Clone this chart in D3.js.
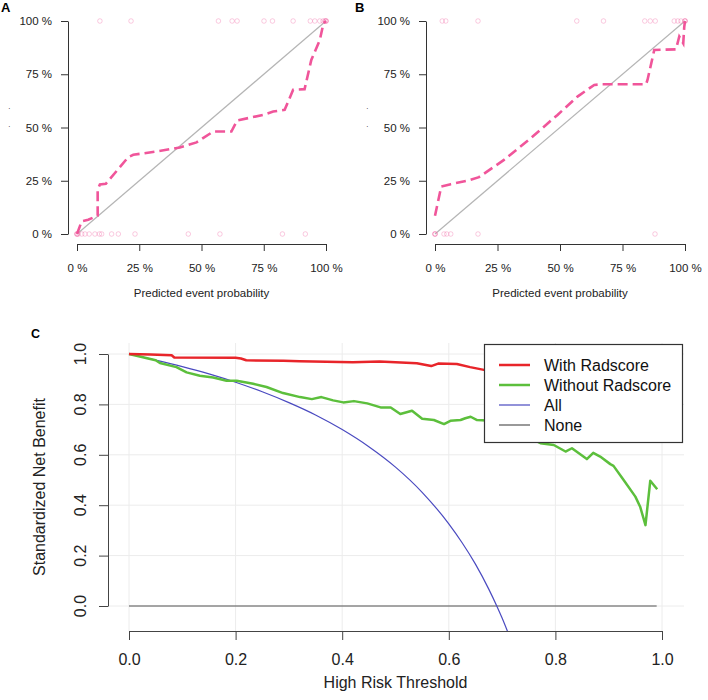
<!DOCTYPE html>
<html><head><meta charset="utf-8">
<script src="https://cdn.jsdelivr.net/npm/d3@7"></script>
<style>
body{margin:0;background:#fff;}
svg{display:block;font-family:"Liberation Sans",Arial,Helvetica,sans-serif;}
</style></head>
<body>
<svg id="chart" width="708" height="700"></svg>
<script>
// ---------- Data ----------
const pctTicks = [0, 0.25, 0.5, 0.75, 1];
// Panel A calibration curve
const calA_x = [0,0.019,0.045,0.083,0.083,0.092,0.116,0.206,0.226,0.32,0.413,0.48,0.547,0.62,0.643,0.747,0.788,0.834,0.868,0.914,0.941,0.975,0.99,1.0];
const calA_y = [0,0.06,0.067,0.086,0.208,0.233,0.236,0.361,0.372,0.3875,0.406,0.43,0.481,0.481,0.533,0.559,0.575,0.583,0.677,0.68,0.817,0.91,0.99,1.0];
const rugA_top = [0.092,0.217,0.568,0.623,0.643,0.751,0.785,0.868,0.937,0.955,0.975,0.988,0.995,1.0,1.0,1.0];
const rugA_bot = [0,0,0,0.005,0.019,0.032,0.049,0.072,0.09,0.099,0.139,0.166,0.233,0.447,0.574,0.825,0.917];
// Panel B calibration curve
const calB_x = [0,0.025,0.063,0.13,0.176,0.276,0.383,0.49,0.57,0.637,0.67,0.844,0.85,0.877,0.964,0.977,0.993,0.997,1.0];
const calB_y = [0.086,0.223,0.234,0.25,0.267,0.348,0.45,0.559,0.645,0.70,0.703,0.703,0.723,0.864,0.867,0.927,0.895,0.973,1.0];
const rugB_top = [0.029,0.043,0.172,0.567,0.674,0.839,0.861,0.881,0.957,0.971,0.984,1.0,1.0,1.0];
const rugB_bot = [0,0,0,0.036,0.047,0.063,0.172,0.88];
// Panel C decision curves
const dcaTicks = [0, 0.2, 0.4, 0.6, 0.8, 1.0];
const red_x = [0,0.04,0.08,0.085,0.2,0.21,0.22,0.29,0.32,0.42,0.47,0.54,0.567,0.58,0.615,0.64,0.666,0.7,0.8,0.9,0.99];
const red_y = [1.0,0.998,0.995,0.986,0.985,0.982,0.975,0.973,0.971,0.967,0.970,0.963,0.952,0.962,0.96,0.948,0.937,0.93,0.92,0.9,0.88];
const green_x = [0,0.05,0.058,0.089,0.108,0.133,0.158,0.183,0.202,0.233,0.258,0.289,0.321,0.343,0.361,0.383,0.402,0.422,0.447,0.472,0.491,0.509,0.531,0.55,0.572,0.591,0.603,0.622,0.631,0.641,0.653,0.68,0.70,0.72,0.74,0.772,0.797,0.819,0.831,0.859,0.871,0.884,0.903,0.909,0.928,0.95,0.959,0.969,0.978,0.991];
const green_y = [1,0.975,0.964,0.948,0.927,0.914,0.907,0.894,0.894,0.882,0.869,0.845,0.829,0.821,0.829,0.816,0.808,0.813,0.804,0.788,0.788,0.762,0.775,0.743,0.738,0.722,0.735,0.738,0.745,0.751,0.738,0.735,0.72,0.70,0.68,0.646,0.639,0.613,0.626,0.583,0.608,0.593,0.563,0.556,0.5,0.434,0.394,0.321,0.497,0.463];
const blue_x = [0,0.05,0.1,0.15,0.2,0.25,0.3,0.35,0.4,0.45,0.5,0.55,0.6,0.625,0.65,0.675,0.69,0.70,0.71];
const blue_y = [1,0.976,0.95,0.921,0.888,0.85,0.807,0.758,0.70,0.632,0.551,0.451,0.326,0.251,0.166,0.067,0,-0.048,-0.1];
const none_x = [0,0.99];
const none_y = [0,0];
const legendLabels = ["With Radscore","Without Radscore","All","None"];
const legendColors = ["#e8252a","#5cbf3c","#4a4ac0","#555555"];
const legendWidths = [2.5,2.5,1.2,1.2];

const svg = d3.select("#chart");
const zip = (xs, ys) => xs.map((x,i)=>[x, ys[i]]);

// ---------- Calibration panels ----------
function calPanel(opt){
  const x = d3.scaleLinear().domain([0,1]).range([opt.x0, opt.x1]);
  const y = d3.scaleLinear().domain([0,1]).range([234, 21]);
  const g = svg.append("g");
  g.append("text").attr("x", opt.labX).attr("y", 12).attr("font-size", 13).attr("font-weight","bold").text(opt.label);
  // dots at left (remnants of y title)
  [108,126].forEach(yy=>g.append("text").attr("x",opt.dotX).attr("y",yy+3).attr("font-size",8).attr("fill","#333").text("·"));
  const ax = g.append("g").attr("transform",`translate(${opt.yAxX},0)`)
    .call(d3.axisLeft(y).tickValues(pctTicks).tickSize(7).tickSizeOuter(0).tickPadding(9).tickFormat(d=>Math.round(d*100)+" %"));
  const bx = g.append("g").attr("transform",`translate(0,244)`)
    .call(d3.axisBottom(x).tickValues(pctTicks).tickSize(7).tickSizeOuter(0).tickPadding(13).tickFormat(d=>Math.round(d*100)+" %"));
  [ax,bx].forEach(a=>{a.selectAll("path,line").attr("stroke","#333");a.selectAll("text").attr("font-size",11.5).attr("fill","#222").attr("font-family","Liberation Sans, Arial, sans-serif");});
  g.append("text").attr("x",(opt.x0+opt.x1)/2).attr("y",297).attr("text-anchor","middle").attr("font-size",11.5).attr("fill","#222").text("Predicted event probability");
  // diagonal
  g.append("path").attr("d", d3.line().x(d=>x(d[0])).y(d=>y(d[1]))([[0,0],[1,1]])).attr("stroke","#b5b5b5").attr("stroke-width",1.2).attr("fill","none");
  // rugs
  g.selectAll(null).data(opt.top).enter().append("circle").attr("cx",d=>x(d)).attr("cy",y(1)).attr("r",2.3).attr("fill","none").attr("stroke","#f06aa6").attr("stroke-opacity",0.35).attr("stroke-width",1);
  g.selectAll(null).data(opt.bot).enter().append("circle").attr("cx",d=>x(d)).attr("cy",y(0)).attr("r",2.3).attr("fill","none").attr("stroke","#f06aa6").attr("stroke-opacity",0.35).attr("stroke-width",1);
  // curve
  g.append("path").attr("d", d3.line().x(d=>x(d[0])).y(d=>y(d[1]))(zip(opt.cx, opt.cy)))
    .attr("stroke","#f0559a").attr("stroke-width",2.6).attr("fill","none").attr("stroke-dasharray","10,5");
}
calPanel({x0:77,x1:326,yAxX:68,labX:1,dotX:8,label:"A",cx:calA_x,cy:calA_y,top:rugA_top,bot:rugA_bot});
calPanel({x0:435,x1:685,yAxX:426,labX:355,dotX:366,label:"B",cx:calB_x,cy:calB_y,top:rugB_top,bot:rugB_bot});

// ---------- Panel C ----------
const cx = d3.scaleLinear().domain([0,1]).range([129,662]);
const cy = d3.scaleLinear().domain([0,1]).range([606,354]);
const gc = svg.append("g");
gc.append("text").attr("x",31).attr("y",338).attr("font-size",12.5).attr("font-weight","bold").text("C");
gc.append("defs").append("clipPath").attr("id","clipC").append("rect").attr("x",108).attr("y",343).attr("width",576).attr("height",288);
// grid
gc.selectAll(null).data(dcaTicks).enter().append("line").attr("x1",d=>cx(d)).attr("x2",d=>cx(d)).attr("y1",343).attr("y2",631).attr("stroke","#ececec").attr("stroke-width",1);
gc.selectAll(null).data(dcaTicks).enter().append("line").attr("x1",108).attr("x2",684).attr("y1",d=>cy(d)).attr("y2",d=>cy(d)).attr("stroke","#ececec").attr("stroke-width",1);
// axes
const yAx = gc.append("g").attr("transform","translate(108,0)").call(d3.axisLeft(cy).tickValues(dcaTicks).tickSize(9).tickSizeOuter(0).tickFormat(""));
const xAx = gc.append("g").attr("transform","translate(0,631)").call(d3.axisBottom(cx).tickValues(dcaTicks).tickSize(9).tickSizeOuter(0).tickPadding(14).tickFormat(d3.format(".1f")));
[yAx,xAx].forEach(a=>{a.selectAll("path,line").attr("stroke","#444");a.selectAll("text").attr("font-size",16).attr("fill","#222").attr("font-family","Liberation Sans, Arial, sans-serif");});
gc.selectAll(null).data(dcaTicks).enter().append("text").attr("transform",d=>`translate(86,${cy(d)}) rotate(-90)`).attr("text-anchor","middle").attr("font-size",16).attr("fill","#222").text(d3.format(".1f"));
gc.append("text").attr("x",395.5).attr("y",688).attr("text-anchor","middle").attr("font-size",16).attr("fill","#222").text("High Risk Threshold");
gc.append("text").attr("transform","translate(45,487) rotate(-90)").attr("text-anchor","middle").attr("font-size",16).attr("fill","#222").text("Standardized Net Benefit");
// lines
const lineC = d3.line().x(d=>cx(d[0])).y(d=>cy(d[1]));
const lc = gc.append("g").attr("clip-path","url(#clipC)");
lc.append("path").attr("d",lineC(zip(none_x,none_y))).attr("stroke",legendColors[3]).attr("stroke-width",1.2).attr("fill","none");
lc.append("path").attr("d",lineC.curve(d3.curveMonotoneX)(zip(blue_x,blue_y))).attr("stroke",legendColors[2]).attr("stroke-width",1.2).attr("fill","none");
lineC.curve(d3.curveLinear);
lc.append("path").attr("d",lineC(zip(green_x,green_y))).attr("stroke",legendColors[1]).attr("stroke-width",2.5).attr("fill","none").attr("stroke-linejoin","round");
lc.append("path").attr("d",lineC(zip(red_x,red_y))).attr("stroke",legendColors[0]).attr("stroke-width",2.5).attr("fill","none").attr("stroke-linejoin","round");
// legend
const lg = gc.append("g");
lg.append("rect").attr("x",484.5).attr("y",344.5).attr("width",198).attr("height",98).attr("fill","#fff").attr("stroke","#333").attr("stroke-width",1.2);
legendLabels.forEach((lab,i)=>{
  const yy = 365 + i*20;
  lg.append("line").attr("x1",499).attr("x2",530).attr("y1",yy).attr("y2",yy).attr("stroke",legendColors[i]).attr("stroke-width",legendWidths[i]);
  lg.append("text").attr("x",544).attr("y",yy).attr("dy","0.36em").attr("font-size",16).attr("fill","#111").text(lab);
});
</script>
</body></html>
